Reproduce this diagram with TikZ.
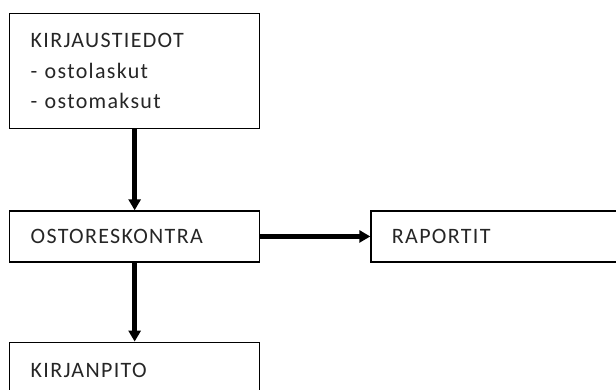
\documentclass[tikz,border=0pt]{standalone}
\usepackage{fontspec}
\setmainfont{Carlito}[LetterSpace=6.0]
\usepackage{tikz}
\usetikzlibrary{positioning, arrows.meta}
\tikzset{
    box/.style={draw=black, line width=1.3pt, rectangle, anchor=north west,
      minimum width=250pt, minimum height=51pt, text width=208pt,
      inner xsep=21pt, align=left, text=black!85,
      font=\fontsize{22pt}{30.6pt}\selectfont},
    flow/.style={line width=4.5pt, -{Triangle[length=11pt, width=12pt]}},
}
\begin{document}
\begin{tikzpicture}[x=1pt, y=1pt]
    \useasboundingbox (0,0) rectangle (616,-390);

    \node[box, minimum height=115pt] (kirjaus) at (9,-13)
      {KIRJAUSTIEDOT\\- ostolaskut\\- ostomaksut};
    \node[box, below=81pt of kirjaus.south west, anchor=north west] (ostores) {OSTORESKONTRA};
    \node[box, right=110pt of ostores] (raportit) {RAPORTIT};
    \node[box, below=79pt of ostores.south west, anchor=north west, minimum height=56pt] (kirjanpito) {KIRJANPITO};

    \draw (kirjaus) edge[flow] (ostores);
    \draw (ostores) edge[flow] (raportit);
    \draw (ostores) edge[flow] (kirjanpito);
\end{tikzpicture}
\end{document}
